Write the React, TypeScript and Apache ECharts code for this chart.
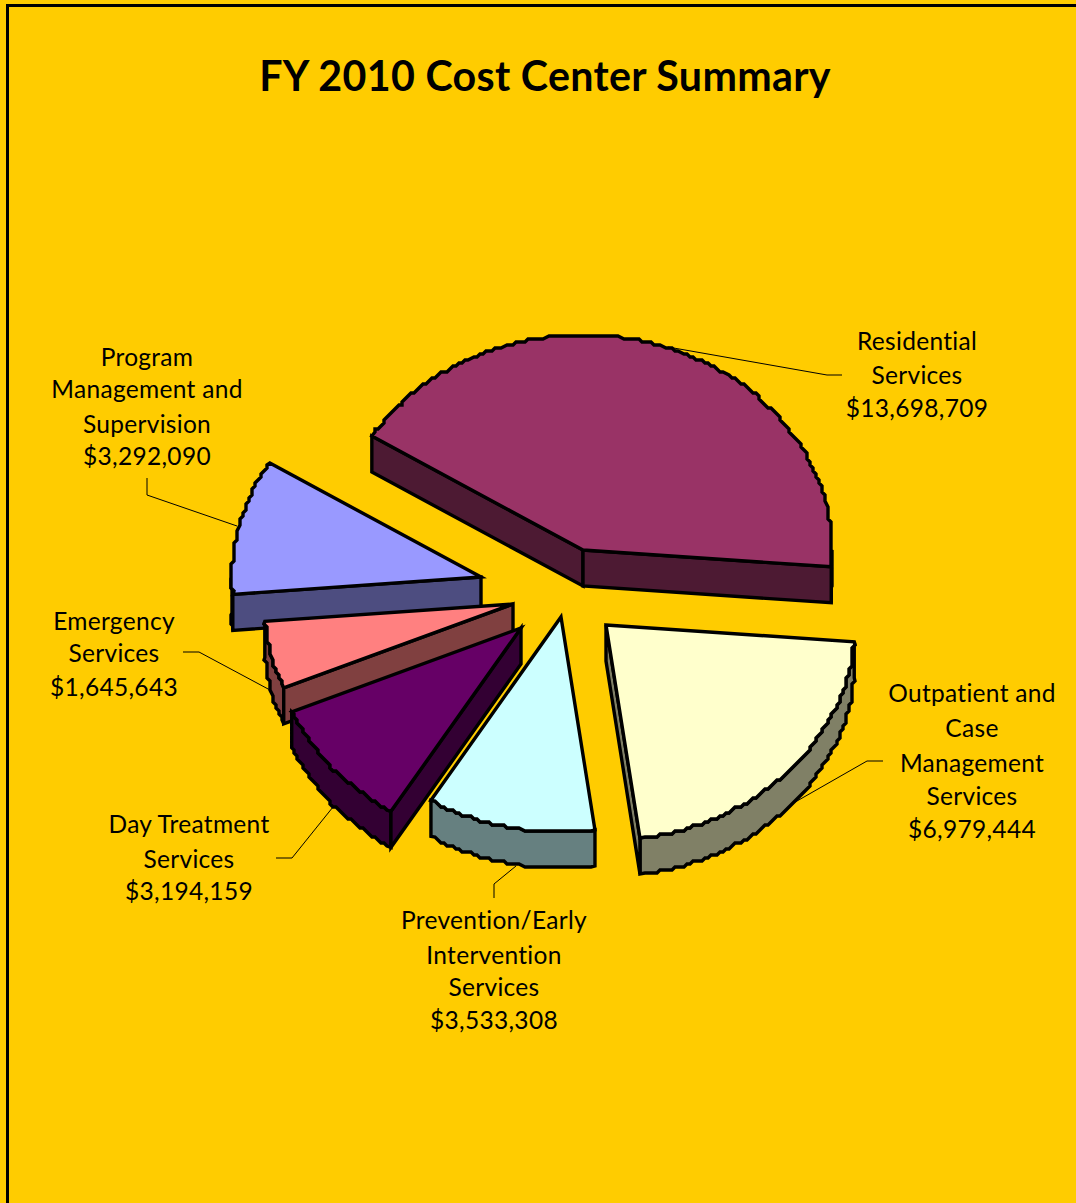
import React, { useEffect, useRef } from "react";
import * as echarts from "echarts";

const costCenters = [
  "Residential Services",
  "Outpatient and Case Management Services",
  "Prevention/Early Intervention Services",
  "Day Treatment Services",
  "Emergency Services",
  "Program Management and Supervision",
];
const costs = [13698709, 6979444, 3533308, 3194159, 1645643, 3292090];
const labelLines = [
  ["Residential", "Services"],
  ["Outpatient and", "Case", "Management", "Services"],
  ["Prevention/Early", "Intervention", "Services"],
  ["Day Treatment", "Services"],
  ["Emergency", "Services"],
  ["Program", "Management and", "Supervision"],
];
const topColors = ["#993366", "#FFFFCC", "#CCFFFF", "#660066", "#FF8080", "#9999FF"];
const sideColors = ["#4D1A33", "#808066", "#668080", "#330033", "#804040", "#4D4D80"];

// Layout of the exploded, tilted pie
const startAngle = 302;
const radiusX = 249;
const radiusY = 215;
const depth = 36;
const apexes = [[583, 550], [606, 625], [561, 617], [521, 628], [513, 604], [481, 577]];
const labelX = [917, 972, 494, 189, 114, 147];
const labelYs = [
  [340, 374, 407],
  [692, 727, 762, 795, 828],
  [919, 954, 986, 1019],
  [823, 858, 890],
  [620, 652, 686],
  [356, 388, 423, 455],
];
const leaders = [
  [[668, 347], [827, 375], [842, 375]],
  [[790, 805], [867, 761], [883, 761]],
  [[516, 866], [494, 884], [494, 898]],
  [[333, 807], [292, 858], [276, 858]],
  [[270, 690], [199, 652], [183, 652]],
  [[237, 526], [147, 495], [147, 478]],
];
const drawOrder = [0, 5, 4, 3, 2, 1];

const total = costs.reduce((a, b) => a + b, 0);
const money = (v: number) => "$" + v.toLocaleString("en-US");
const rad = (d: number) => (d * Math.PI) / 180;

function arcPoints(apex: number[], a0: number, a1: number, dy = 0) {
  const pts: number[][] = [];
  const steps = Math.max(3, Math.round(Math.abs(a1 - a0) * 1.1));
  for (let i = 0; i <= steps; i++) {
    const a = rad(a0 + ((a1 - a0) * i) / steps);
    let x = apex[0] + radiusX * Math.sin(a);
    let y = apex[1] - radiusY * Math.cos(a);
    if (i > 0 && i < steps) {
      x = Math.round(x / 3) * 3;
      y = Math.round(y / 3) * 3;
    }
    pts.push([x, y + dy]);
  }
  return pts;
}

function renderSlice(_: any, api: any) {
  const idx = drawOrder[api.value(0)];
  let acc = 0;
  for (let i = 0; i < idx; i++) acc += costs[i];
  const a0 = startAngle + (acc / total) * 360;
  const a1 = a0 + (costs[idx] / total) * 360;
  const apex = apexes[idx];
  const top = arcPoints(apex, a0, a1);
  const first = top[0];
  const last = top[top.length - 1];
  const shiftP = (p: number[]) => [p[0], p[1] + depth];
  const side = { fill: sideColors[idx], stroke: "#000", lineWidth: 3.4, lineJoin: "miter" };
  const face = (points: number[][]) => ({ type: "polygon", shape: { points }, style: side });
  const children: any[] = [];
  // only the faces turned toward the viewer: front part of the rim (90°..270°)
  for (const k of [0, 360]) {
    const f0 = Math.max(a0, 90 + k);
    const f1 = Math.min(a1, 270 + k);
    if (f1 > f0) {
      const t = arcPoints(apex, f0, f1);
      const b = arcPoints(apex, f0, f1, depth);
      children.push(face([...t, ...b.slice().reverse()]));
    }
  }
  if (Math.sin(rad(a0)) < 0) children.push(face([apex, first, shiftP(first), shiftP(apex)]));
  if (Math.sin(rad(a1)) > 0) children.push(face([apex, last, shiftP(last), shiftP(apex)]));
  children.push({
    type: "polygon",
    shape: { points: [apex, ...top] },
    style: { fill: topColors[idx], stroke: "#000", lineWidth: 3.4, lineJoin: "miter" },
  });
  return { type: "group", children };
}

const labelFont = "Lato, sans-serif";

export default function App() {
  const ref = useRef<HTMLDivElement>(null);
  useEffect(() => {
    const chart = echarts.init(ref.current!, undefined, { renderer: "svg" });
    const graphics: any[] = [];
    leaders.forEach((pts) => {
      graphics.push({
        type: "polyline",
        shape: { points: pts },
        style: { stroke: "#000", lineWidth: 1, fill: "none" },
        z: 1,
      });
    });
    labelLines.forEach((lines, i) => {
      [...lines, money(costs[i])].forEach((t, j) => {
        graphics.push({
          type: "text",
          x: labelX[i],
          y: labelYs[i][j],
          style: {
            text: t,
            font: `400 24.5px ${labelFont}`,
            fill: "#000",
            textAlign: "center",
            textVerticalAlign: "middle",
          },
          z: 20,
        });
      });
    });
    chart.setOption({
      animation: false,
      backgroundColor: "#FFCC00",
      title: {
        text: "FY 2010 Cost Center Summary",
        left: 540,
        top: 49,
        textAlign: "center",
        textStyle: { fontFamily: "Lato, sans-serif", fontWeight: 700, fontSize: 41.2, color: "#000" },
      },
      graphic: [
        {
          type: "polyline",
          shape: { points: [[7.5, 1203], [7.5, 5.5], [1076, 5.5]] },
          style: { stroke: "#000", lineWidth: 3, fill: "none" },
        },
        ...graphics,
      ],
      series: [
        {
          type: "custom",
          coordinateSystem: "none",
          name: "FY 2010",
          renderItem: renderSlice,
          data: drawOrder.map((d, i) => ({ name: costCenters[d], value: [i, costs[d]] })),
          z: 5,
          silent: true,
        },
      ],
    });
    return () => chart.dispose();
  }, []);
  return (
    <div
      ref={ref}
      style={{ position: "fixed", left: 0, top: 0, width: 1076, height: 1203, letterSpacing: "0.3px" }}
    />
  );
}
